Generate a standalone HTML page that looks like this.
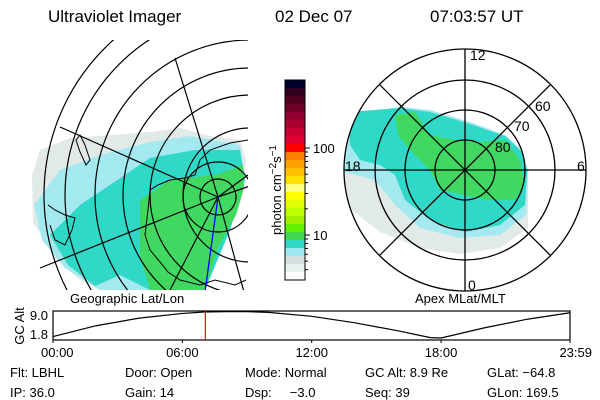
<!DOCTYPE html>
<html><head><meta charset="utf-8"><style>
body{margin:0;background:#fff;}
svg{display:block;font-family:"Liberation Sans",sans-serif;}
</style></head><body>
<svg id="svg" width="600" height="400" viewBox="0 0 600 400">
<defs>
<clipPath id="mapclip"><rect x="0" y="40" width="248" height="250"/></clipPath>
<clipPath id="polclip"><circle cx="465" cy="170" r="121"/></clipPath>
</defs>
<g font-size="17" fill="#000">
<text x="48" y="22">Ultraviolet Imager</text>
<text x="275" y="22">02 Dec 07</text>
<text x="430" y="22">07:03:57 UT</text>
</g>

<g clip-path="url(#mapclip)">
<path fill="#e2eae8" d="M32,175 L40,150 L70,138 L110,135 L150,132 L180,128 L210,136 L240,140 L246,160 L244,185 L238,210 L225,235 L210,260 L200,290 L100,290 L80,280 L55,258 L33,222 Z"/>
<path fill="#a4e8f0" d="M34,205 L60,170 L100,155 L150,142 L190,136 L240,145 L245,180 L230,230 L205,290 L100,290 L65,268 L42,240 Z"/>
<path fill="#30d8c8" d="M50,235 L80,205 L110,185 L150,158 L195,150 L240,150 L245,180 L230,230 L205,290 L150,290 L120,275 L95,286 L68,265 Z"/>
<path fill="#40d860" d="M140,200 L170,180 L215,175 L243,165 L244,188 L236,215 L218,248 L205,290 L150,290 L140,255 Z"/>
<g fill="none" stroke="#000" stroke-width="1.2">
<circle cx="218" cy="197" r="18"/><circle cx="218" cy="197" r="35"/>
<circle cx="250" cy="195" r="67"/><circle cx="250" cy="195" r="100"/><circle cx="250" cy="195" r="127"/>
<circle cx="250" cy="195" r="155"/><circle cx="250" cy="195" r="185"/><circle cx="252" cy="195" r="208"/>
<line x1="218" y1="197" x2="175" y2="58"/><line x1="218" y1="197" x2="60" y2="127"/>
<line x1="218" y1="197" x2="40" y2="268"/><line x1="218" y1="197" x2="244" y2="292"/>
<line x1="218" y1="197" x2="250" y2="186"/><line x1="218" y1="197" x2="248" y2="175"/>
<line x1="218" y1="197" x2="170" y2="290"/>
</g>
<g fill="none" stroke="#000" stroke-width="1">
<path d="M248,140 L230,143 L210,150 L200,160 L195,175 L185,178 L170,180 L158,185 L150,190 L148,210 L145,235 L150,250 L160,262 L168,272 L180,280 L200,285 L215,280 L235,285 L246,280"/>
<path d="M80,135 L85,145 L90,160 L86,165 L80,152 L76,140 Z"/>
<path d="M48,205 L55,210 L65,215 L75,218 L72,230 L65,245 L55,240 L50,225"/>
</g>
<line x1="218" y1="197" x2="205" y2="292" stroke="#0000ff" stroke-width="1.3"/>
</g>
<text x="70" y="303" font-size="13">Geographic Lat/Lon</text>

<g id="cbar"></g>
<text transform="translate(281,190) rotate(-90)" text-anchor="middle" font-size="13">photon cm<tspan dy="-5" font-size="10">−2</tspan><tspan dy="5">s</tspan><tspan dy="-5" font-size="10">−1</tspan></text>

<g>
<g clip-path="url(#polclip)">
<path fill="#e2eae8" d="M345,115 L400,107 L430,110 L470,122 L505,135 L522,150 L528,170 L528,228 L500,248 L460,254 L420,248 L380,232 L345,205 Z"/>
<path fill="#a4e8f0" d="M345,115 L400,107 L430,110 L470,122 L505,135 L522,150 L528,170 L526,215 L500,235 L460,238 L420,228 L395,205 L375,180 L345,172 Z"/>
<path fill="#30d8c8" d="M348,112 L400,108 L430,112 L470,124 L505,136 L522,152 L527,172 L525,205 L500,225 L465,232 L430,220 L405,200 L395,175 L380,165 L360,160 L350,145 Z"/>
<path fill="#40d860" d="M395,115 L415,112 L430,135 L455,140 L480,142 L505,140 L520,160 L524,185 L515,200 L490,200 L465,195 L440,190 L430,170 L410,150 L398,135 Z"/>
</g>
<g fill="none" stroke="#000" stroke-width="1.3">
<circle cx="465" cy="170" r="30"/><circle cx="465" cy="170" r="60"/><circle cx="465" cy="170" r="90"/><circle cx="465" cy="170" r="121"/>
<line x1="465" y1="49" x2="465" y2="291"/><line x1="344" y1="170" x2="586" y2="170"/>
<line x1="379.4" y1="84.4" x2="550.6" y2="255.6"/><line x1="379.4" y1="255.6" x2="550.6" y2="84.4"/>
</g>
<g font-size="14" fill="#000">
<text x="470" y="60">12</text>
<text x="577" y="171">6</text>
<text x="345" y="171">18</text>
<text x="468" y="290">0</text>
<text x="535" y="111">60</text>
<text x="514" y="131">70</text>
<text x="495" y="152">80</text>
</g>
</g>
<text x="415" y="303" font-size="13">Apex MLat/MLT</text>

<g id="alt">
<rect x="53" y="311" width="517" height="29" fill="none" stroke="#000" stroke-width="1.2"/>
<text transform="translate(24,326) rotate(-90)" text-anchor="middle" font-size="13">GC Alt</text>
<text x="48" y="320" text-anchor="end" font-size="13">9.0</text>
<text x="48" y="339" text-anchor="end" font-size="13">1.8</text>
</g>

<g font-size="13" fill="#000">
<text x="10" y="377">Flt: LBHL</text><text x="125" y="377">Door: Open</text><text x="245" y="377">Mode: Normal</text><text x="365" y="377">GC Alt: 8.9 Re</text><text x="487" y="377">GLat: −64.8</text>
<text x="10" y="397">IP: 36.0</text><text x="125" y="397">Gain: 14</text><text x="245" y="397">Dsp:&#160;&#160;&#160;&#160;&#160;−3.0</text><text x="365" y="397">Seq: 39</text><text x="487" y="397">GLon: 169.5</text>
</g>
</svg>
<script>
const cbarColors=["#000030","#300020","#500020","#700028","#900030","#a80030","#c80030","#e00030","#ff0000","#ff8000","#ffa000","#ffc000","#ffe000","#ffff80","#ffff00","#e0ff00","#c0ff00","#a0f000","#60f000","#40d850","#30d8c8","#a0e8f0","#d6e0e0","#e8f0ec","#ffffff"];
const cbarTicks=[100,10];
const altHours=[0,2,4,6,7,8,9,10,12,14,16,17.5,18,20,22,23.98];
const altValues=[2.2,5.2,7.3,8.6,9.0,9.1,9.1,8.9,7.8,6.0,3.8,1.9,1.8,4.6,7.0,8.8];
const timeLabels=["00:00","06:00","12:00","18:00","23:59"];
const timeHours=[0,6,12,18,23.98];
const currentHour=7.066;
const NS="http://www.w3.org/2000/svg";
function mk(t,a,p){const e=document.createElementNS(NS,t);for(const k in a)e.setAttribute(k,a[k]);p.appendChild(e);return e;}
const cb=document.getElementById('cbar');
const cbTop=80,cbBot=280,bh=(cbBot-cbTop)/cbarColors.length;
cbarColors.forEach((c,i)=>{const r=mk('rect',{x:285,y:cbTop+i*bh,width:20,height:bh+0.5,fill:c},cb);

});
mk('rect',{x:285,y:cbTop,width:20,height:cbBot-cbTop,fill:'none',stroke:'#000','stroke-width':1},cb);
function cy(v){return 235-(Math.log10(v)-1)*87;}
cbarTicks.forEach(v=>{const t=mk('text',{x:313,y:cy(v)+5,'font-size':13},cb);t.textContent=v;


mk('line',{x1:305,y1:cy(v),x2:310,y2:cy(v),stroke:'#000'},cb);});
for(let k=2;k<=9;k++){[1,10].forEach(m=>{const v=k*m;const y=cy(v);if(y>cbTop&&y<cbBot)mk('line',{x1:305,y1:y,x2:308,y2:y,stroke:'#000'},cb);});}
const alt=document.getElementById('alt');
const x0=53,x1=570;
function ax(h){return x0+(x1-x0)*h/23.98;}
function ay(v){return 338-(v-1.8)/(9.0-1.8)*26;}
const pl=mk('polyline',{points:altHours.map((h,i)=>ax(h)+','+ay(altValues[i])).join(' '),fill:'none',stroke:'#000','stroke-width':1.2},alt);


const rl=mk('line',{x1:ax(currentHour),y1:311,x2:ax(currentHour),y2:340,stroke:'#ff0000','stroke-width':1.2},alt);


timeLabels.forEach((l,i)=>{const anc=i==0?'start':(i==timeLabels.length-1?'end':'middle');
const t=mk('text',{x:i==0?41:(i==timeLabels.length-1?592:ax(timeHours[i])),y:357,'font-size':13,'text-anchor':anc},alt);t.textContent=l;


mk('line',{x1:ax(timeHours[i]),y1:340,x2:ax(timeHours[i]),y2:343,stroke:'#000'},alt);});
</script>
</body></html>
